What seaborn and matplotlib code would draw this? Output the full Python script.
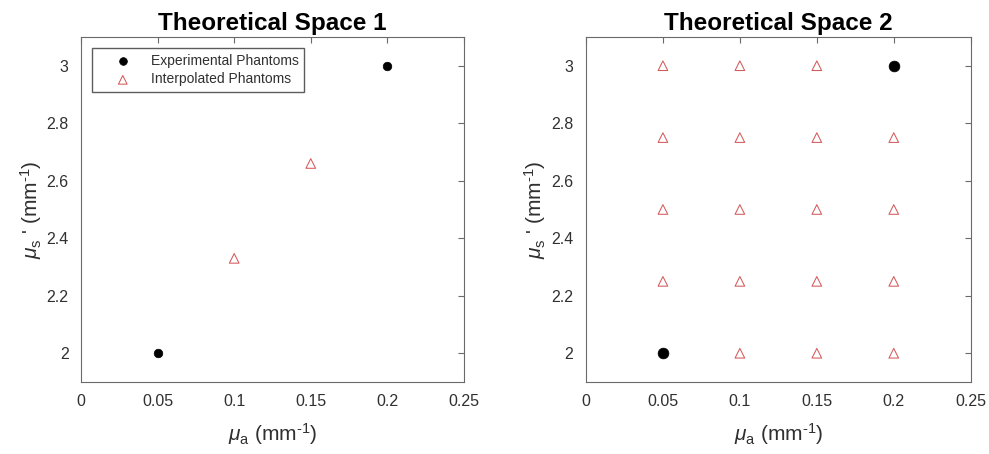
import numpy as np
import pandas as pd
import matplotlib
matplotlib.use("Agg")
import matplotlib.pyplot as plt
import seaborn as sns

# ---- datos ----
# espacio 1
exp1_mua = [0.05, 0.2]
exp1_mus = [2.0, 3.0]
int1_mua = [0.1, 0.15]
int1_mus = [2.33, 2.66]

# espacio 2
exp2_mua = [0.05, 0.2]
exp2_mus = [2.0, 3.0]
grid_mua = [0.05, 0.1, 0.15, 0.2]
grid_mus = [2.0, 2.25, 2.5, 2.75, 3.0]

titulos = ["Theoretical Space 1", "Theoretical Space 2"]
xticks = [0, 0.05, 0.1, 0.15, 0.2, 0.25]
xtick_labels = ["0", "0.05", "0.1", "0.15", "0.2", "0.25"]
yticks = [2, 2.2, 2.4, 2.6, 2.8, 3]
ytick_labels = ["2", "2.2", "2.4", "2.6", "2.8", "3"]

sns.set_style("white")
plt.rcParams['font.family'] = ['Liberation Sans', 'DejaVu Sans']
plt.rcParams['mathtext.fontset'] = 'custom'
plt.rcParams['mathtext.rm'] = 'Liberation Sans'
plt.rcParams['mathtext.it'] = 'Liberation Sans:italic'

df1 = pd.DataFrame({
    "mua": exp1_mua + int1_mua,
    "mus": exp1_mus + int1_mus,
    "tipo": ["Experimental Phantoms"] * 2 + ["Interpolated Phantoms"] * 2,
})

int2 = [(a, s) for s in grid_mus for a in grid_mua
        if (a, s) not in list(zip(exp2_mua, exp2_mus))]
df2 = pd.DataFrame({
    "mua": exp2_mua + [p[0] for p in int2],
    "mus": exp2_mus + [p[1] for p in int2],
    "tipo": ["Experimental Phantoms"] * 2 + ["Interpolated Phantoms"] * len(int2),
})

fig = plt.figure(figsize=(9.89, 4.54), dpi=100)
ax1 = fig.add_axes([0.082, 0.1586, 0.387, 0.760])
ax2 = fig.add_axes([0.5925, 0.1586, 0.389, 0.760])

gris = "#6a6a6a"
texto = "#303030"
for ax, df, tit, tam_exp in [(ax1, df1, titulos[0], 38), (ax2, df2, titulos[1], 60)]:
    exp = df[df["tipo"] == "Experimental Phantoms"]
    itp = df[df["tipo"] == "Interpolated Phantoms"]
    sns.scatterplot(data=exp, x="mua", y="mus", ax=ax, color="black", marker="o",
                    s=tam_exp, edgecolor="black", linewidth=0.5,
                    label="Experimental Phantoms", legend=False)
    sns.scatterplot(data=itp, x="mua", y="mus", ax=ax, marker="^", s=48,
                    facecolors="none", edgecolor="#d45a5a", linewidth=0.75,
                    label="Interpolated Phantoms", legend=False)
    ax.set_xlim(0, 0.25)
    ax.set_ylim(1.9, 3.1)
    ax.set_xticks(xticks)
    ax.set_xticklabels(xtick_labels, fontsize=11.5, color=texto)
    ax.set_yticks(yticks)
    ax.set_yticklabels(ytick_labels, fontsize=11.5, color=texto)
    ax.tick_params(direction="in", top=True, right=True, length=4, color=gris, pad=9)
    for sp in ax.spines.values():
        sp.set_visible(True)
        sp.set_color(gris)
        sp.set_linewidth(0.8)
    ax.set_title(tit, fontsize=17.5, fontweight="bold", pad=5, color="black")
    ax.set_xlabel(r"$\mu_{\rm a}$ (mm$^{\text{-1}}$)", fontsize=15, color=texto, labelpad=8)
    ax.set_ylabel(r"$\mu_{\rm s}$ ' (mm$^{\text{-1}}$)", fontsize=15, color=texto, labelpad=2)

ax1.legend(loc="upper left", fontsize=10, frameon=True, fancybox=False,
           edgecolor="#333333", borderpad=0.4, handlelength=3.6, handletextpad=0.2,
           borderaxespad=0.8, markerscale=0.9, labelspacing=0.35,
           labelcolor=texto)

fig.savefig("out.png", dpi=100)
